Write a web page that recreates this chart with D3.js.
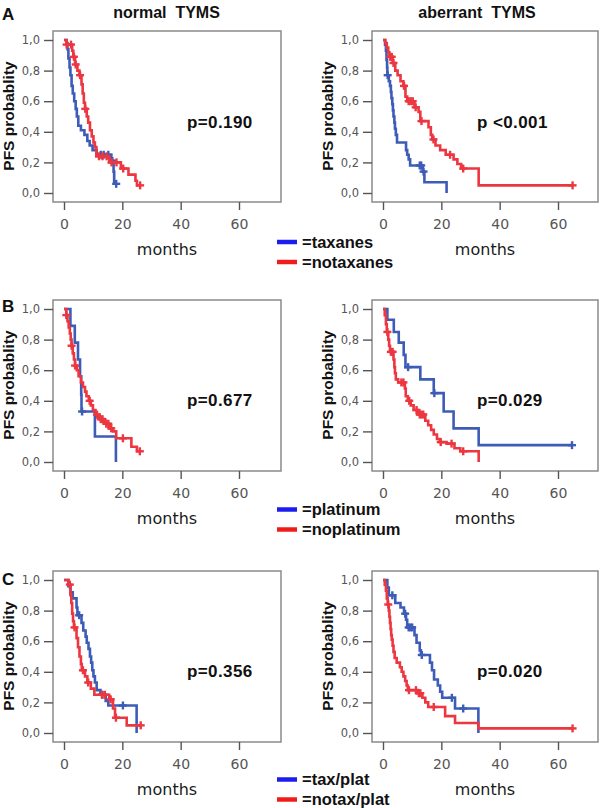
<!DOCTYPE html>
<html><head><meta charset="utf-8">
<script src="https://cdn.jsdelivr.net/npm/d3@7"></script>
<style>body{margin:0;background:#fff;} svg{display:block}</style>
</head><body><svg id="c" width="600" height="808"></svg>
<script>
// ---------- data ----------
const xTicks = [0, 20, 40, 60];
const yTicks = [0, 0.2, 0.4, 0.6, 0.8, 1.0];
const yTickLabels = ["0,0", "0,2", "0,4", "0,6", "0,8", "1,0"];
const columnTitles = ["normal  TYMS", "aberrant  TYMS"];
const rowLetters = ["A", "B", "C"];
const pValues = [["p=0.190", "p <0.001"], ["p=0.677", "p=0.029"], ["p=0.356", "p=0.020"]];
const legendLabels = [["=taxanes", "=notaxanes"], ["=platinum", "=noplatinum"], ["=tax/plat", "=notax/plat"]];

// Row A, normal TYMS
const aNormTaxT = [0.9,1.2,1.5,1.9,2.2,2.6,3.0,3.5,4.0,4.4,4.9,5.8,7.0,8.0,8.8,9.8,11.2,16.2,17.0,17.2];
const aNormTaxS = [0.98,0.94,0.88,0.82,0.77,0.70,0.65,0.60,0.55,0.50,0.44,0.41,0.38,0.34,0.31,0.28,0.25,0.21,0.14,0.06];
const aNormTaxC = [12.6,13.6,15.2,16.6,17.9];
const aNormNoTaxT = [0.8,2.8,3.2,3.8,4.6,5.3,6.0,6.4,6.8,7.2,7.8,8.3,8.9,9.5,10.1,10.6,11.1,15.5,19.5,22.1,24.5,25.0];
const aNormNoTaxS = [0.97,0.93,0.89,0.84,0.80,0.77,0.71,0.65,0.59,0.55,0.50,0.46,0.41,0.37,0.33,0.30,0.24,0.20,0.16,0.12,0.08,0.05];
const aNormNoTaxC = [0.9,2.4,3.4,4.0,5.5,7.3,12.0,13.2,14.6,16.3,18.0,20.3,26.1];
// Row A, aberrant TYMS
const aAberTaxT = [0.7,1.0,1.2,1.4,1.5,2.0,2.4,2.7,2.9,3.2,3.4,3.6,3.9,4.1,4.4,4.8,7.9,8.3,8.8,9.3,13.6,14.2,21.8];
const aAberTaxS = [0.97,0.93,0.87,0.82,0.77,0.73,0.70,0.66,0.62,0.58,0.54,0.50,0.46,0.42,0.38,0.33,0.28,0.25,0.22,0.18,0.14,0.07,0.0];
const aAberTaxC = [1.6,12.6,13.1,13.9];
const aAberNoTaxT = [0.8,1.3,1.8,2.2,3.3,4.2,5.0,6.0,7.0,7.7,8.3,10.8,12.2,12.8,15.6,16.4,16.9,18.0,19.6,21.5,24.2,25.5,26.8,32.8];
const aAberNoTaxS = [0.98,0.95,0.92,0.89,0.85,0.80,0.77,0.73,0.70,0.63,0.60,0.56,0.53,0.47,0.43,0.38,0.35,0.31,0.28,0.25,0.22,0.19,0.16,0.05];
const aAberNoTaxC = [2.5,3.0,3.6,7.2,8.8,9.5,10.2,11.2,13.2,17.3,23.0,27.5,65.0];
// Row B, normal TYMS
const bNormPlatT = [2.2,3.7,4.8,5.5,5.9,6.0,10.6,17.8];
const bNormPlatS = [0.89,0.78,0.67,0.56,0.44,0.33,0.167,0.0];
const bNormPlatC = [6.2];
const bNormNoPlatT = [0.8,1.2,1.6,2.0,2.3,2.6,3.0,3.4,3.8,4.4,5.0,5.8,6.5,7.2,7.7,8.5,9.2,9.9,10.8,12.0,13.8,15.5,16.8,17.9,23.1,25.0];
const bNormNoPlatS = [0.96,0.92,0.88,0.84,0.80,0.76,0.71,0.67,0.63,0.60,0.56,0.52,0.49,0.46,0.43,0.40,0.37,0.34,0.31,0.28,0.25,0.22,0.20,0.155,0.10,0.07];
const bNormNoPlatC = [0.8,2.6,3.8,8.8,11.3,12.6,13.2,14.5,15.2,16.2,20.2,26.0];
// Row B, aberrant TYMS
const bAberPlatT = [1.5,3.7,5.4,7.1,7.7,12.8,17.4,20.8,24.2,32.8];
const bAberPlatS = [0.93,0.85,0.78,0.70,0.62,0.54,0.45,0.33,0.22,0.11];
const bAberPlatC = [8.6,17.6,64.8];
const bAberNoPlatT = [0.6,1.0,1.3,1.8,2.1,2.4,3.6,3.9,4.1,4.4,5.2,7.5,7.8,8.5,9.5,10.5,12.0,14.5,15.5,16.5,17.4,18.5,19.5,21.8,24.5,26.5,32.8];
const bAberNoPlatS = [0.96,0.90,0.85,0.80,0.76,0.72,0.67,0.62,0.58,0.54,0.52,0.48,0.43,0.40,0.37,0.34,0.31,0.27,0.24,0.21,0.18,0.15,0.13,0.12,0.09,0.07,0.0];
const bAberNoPlatC = [1.5,2.7,3.3,6.3,7.0,9.0,11.5,12.6,13.2,13.8,19.8,23.5,27.5];
// Row C, normal TYMS
const cNormTaxPlatT = [1.5,2.2,3.0,4.3,4.6,6.0,6.6,7.4,7.8,8.4,8.9,9.3,9.7,10.1,10.6,11.2,12.5,14.3,15.2,24.9];
const cNormTaxPlatS = [0.96,0.92,0.88,0.82,0.77,0.72,0.67,0.63,0.59,0.55,0.50,0.46,0.41,0.37,0.33,0.28,0.25,0.21,0.18,0.0];
const cNormTaxPlatC = [5.2,13.2,20.2];
const cNormNoTaxPlatT = [1.5,2.2,2.5,2.8,3.1,3.4,4.3,4.8,5.3,5.8,6.1,7.2,8.0,9.2,10.4,15.5,16.8,17.5,21.5];
const cNormNoTaxPlatS = [0.97,0.90,0.85,0.78,0.73,0.69,0.62,0.56,0.50,0.45,0.41,0.37,0.33,0.29,0.25,0.22,0.16,0.10,0.05];
const cNormNoTaxPlatC = [2.0,3.6,6.5,8.3,13.0,14.0,16.0,17.8,26.3];
// Row C, aberrant TYMS
const cAberTaxPlatT = [1.5,2.0,4.2,6.0,7.2,7.9,8.3,10.8,11.5,12.6,13.0,16.1,16.8,17.5,18.8,19.6,20.3,24.7,32.7];
const cAberTaxPlatS = [0.95,0.90,0.85,0.82,0.78,0.74,0.69,0.64,0.59,0.54,0.51,0.46,0.41,0.35,0.31,0.27,0.23,0.16,0.0];
const cAberTaxPlatC = [3.2,7.6,8.8,9.4,10.0,13.3,23.6,27.5];
const cAberNoTaxPlatT = [0.6,1.0,1.3,1.6,2.0,2.2,2.4,2.6,2.8,3.0,3.3,3.6,4.0,4.7,5.8,6.4,7.0,7.6,8.1,8.5,11.8,13.5,14.5,15.5,21.3,24.7,32.7];
const cAberNoTaxPlatS = [0.97,0.93,0.88,0.84,0.80,0.76,0.72,0.68,0.64,0.61,0.57,0.53,0.49,0.46,0.43,0.40,0.37,0.34,0.31,0.28,0.26,0.23,0.20,0.17,0.11,0.065,0.03];
const cAberNoTaxPlatC = [1.8,8.9,11.3,12.3,12.8,17.4,65.0];

// ---------- layout / style ----------
const curveColors = ["#3d5cb8", "#ec3640"];
const legendColors = ["#1c1cf0", "#f01c1c"];
const rowY1 = [40, 309, 580];          // pixel of survival 1.0
const colX0 = [64, 383];               // pixel of month 0
const boxRight = [281, 598];
const legendY = [242, 509.5, 779.5];
const pBaseline = [[128, 128], [406, 406], [677, 677]];

const grid = [
  [[[aNormTaxT, aNormTaxS, aNormTaxC], [aNormNoTaxT, aNormNoTaxS, aNormNoTaxC]],
   [[aAberTaxT, aAberTaxS, aAberTaxC], [aAberNoTaxT, aAberNoTaxS, aAberNoTaxC]]],
  [[[bNormPlatT, bNormPlatS, bNormPlatC], [bNormNoPlatT, bNormNoPlatS, bNormNoPlatC]],
   [[bAberPlatT, bAberPlatS, bAberPlatC], [bAberNoPlatT, bAberNoPlatS, bAberNoPlatC]]],
  [[[cNormTaxPlatT, cNormTaxPlatS, cNormTaxPlatC], [cNormNoTaxPlatT, cNormNoTaxPlatS, cNormNoTaxPlatC]],
   [[cAberTaxPlatT, cAberTaxPlatS, cAberTaxPlatC], [cAberNoTaxPlatT, cAberNoTaxPlatS, cAberNoTaxPlatC]]]
];

const svg = d3.select("#c");
svg.append("rect").attr("width", 600).attr("height", 808).attr("fill", "#fff");

const boldFont = "'Liberation Sans', Arial, sans-serif";
const tickFont = "'DejaVu Sans', Verdana, sans-serif";

// column titles
columnTitles.forEach((t, c) => {
  svg.append("text").attr("x", c === 0 ? 166.5 : 477).attr("y", 18)
    .attr("text-anchor", "middle").attr("font-family", boldFont).attr("font-weight", "bold")
    .attr("font-size", 16).attr("fill", "#111").style("white-space", "pre").text(t);
});

// row letters
const letterY = [20, 312, 585];
rowLetters.forEach((L, r) => {
  svg.append("text").attr("x", 2).attr("y", letterY[r]).attr("font-family", boldFont)
    .attr("font-weight", "bold").attr("font-size", 17).attr("fill", "#111").text(L);
});

function survAt(T, S, t) {
  let s = 1;
  for (let i = 0; i < T.length; i++) { if (T[i] <= t) s = S[i]; }
  return s;
}

for (let r = 0; r < 3; r++) {
  for (let c = 0; c < 2; c++) {
    const x = d3.scaleLinear().domain([0, 60]).range([colX0[c], colX0[c] + 175]);
    const y = d3.scaleLinear().domain([0, 1]).range([rowY1[r] + 153, rowY1[r]]);
    const bx0 = colX0[c] - 11, bx1 = boxRight[c];
    const by0 = rowY1[r] - 9, by1 = rowY1[r] + 162;
    const g = svg.append("g");

    // plot frame
    g.append("rect").attr("x", bx0).attr("y", by0).attr("width", bx1 - bx0).attr("height", by1 - by0)
      .attr("fill", "#fff").attr("stroke", "#8a8a8a").attr("stroke-width", 1.5);

    // y axis
    const ya = g.append("g").attr("transform", `translate(${bx0},0)`)
      .call(d3.axisLeft(y).tickValues(yTicks).tickFormat((d, i) => yTickLabels[i]).tickSize(9).tickPadding(4).tickSizeOuter(0));
    ya.select(".domain").remove();
    ya.selectAll("line").attr("stroke", "#555").attr("stroke-width", 1.4);
    ya.selectAll("text").attr("font-family", tickFont).attr("font-size", 11.5).attr("fill", "#555");

    // x axis
    const xa = g.append("g").attr("transform", `translate(0,${by1})`)
      .call(d3.axisBottom(x).tickValues(xTicks).tickSize(8).tickPadding(9).tickSizeOuter(0));
    xa.select(".domain").remove();
    xa.selectAll("line").attr("stroke", "#555").attr("stroke-width", 1.4);
    xa.selectAll("text").attr("font-family", tickFont).attr("font-size", 14).attr("fill", "#555");

    // axis titles
    g.append("text").attr("x", (bx0 + bx1) / 2).attr("y", rowY1[r] + 215).attr("text-anchor", "middle")
      .attr("font-family", tickFont).attr("font-size", 16).attr("fill", "#1a1a1a").text("months");
    const lx = c === 0 ? 14 : 333;
    g.append("text").attr("transform", `translate(${lx},${rowY1[r] + 76}) rotate(-90)`)
      .attr("text-anchor", "middle").attr("font-family", boldFont).attr("font-weight", "bold")
      .attr("font-size", 15.5).attr("fill", "#111").text("PFS probablity");

    // p-value
    g.append("text").attr("x", c === 0 ? 187 : 477).attr("y", pBaseline[r][c])
      .attr("font-family", boldFont).attr("font-weight", "bold").attr("font-size", 17)
      .attr("letter-spacing", 0.4).attr("fill", "#111").style("white-space", "pre").text(pValues[r][c]);

    // KM curves
    const line = d3.line().x(d => x(d[0])).y(d => y(d[1])).curve(d3.curveStepAfter);
    grid[r][c].forEach(([T, S, C], k) => {
      const pts = [[0, 1]].concat(T.map((t, i) => [t, S[i]]));
      const end = Math.max(T[T.length - 1], C.length ? d3.max(C) : 0);
      if (end > T[T.length - 1]) pts.push([end, S[S.length - 1]]);
      g.append("path").attr("d", line(pts)).attr("fill", "none").attr("stroke", curveColors[k])
        .attr("stroke-width", 2.6).attr("stroke-linejoin", "miter");
      const cg = g.append("g").attr("stroke", curveColors[k]).attr("stroke-width", 2.4);
      C.forEach(ct => {
        const px = x(ct), py = y(survAt(T, S, ct));
        cg.append("line").attr("x1", px - 4).attr("x2", px + 4).attr("y1", py).attr("y2", py);
        cg.append("line").attr("x1", px).attr("x2", px).attr("y1", py - 4).attr("y2", py + 4);
      });
    });
  }

  // legend for the row
  legendLabels[r].forEach((lab, k) => {
    const ly = legendY[r] + k * 20;
    svg.append("line").attr("x1", 277).attr("x2", 297).attr("y1", ly).attr("y2", ly)
      .attr("stroke", legendColors[k]).attr("stroke-width", 4.5);
    svg.append("text").attr("x", 302).attr("y", ly + 5.5).attr("font-family", boldFont)
      .attr("font-weight", "bold").attr("font-size", 16.5).attr("fill", "#111").text(lab);
  });
}
</script>
</body></html>
